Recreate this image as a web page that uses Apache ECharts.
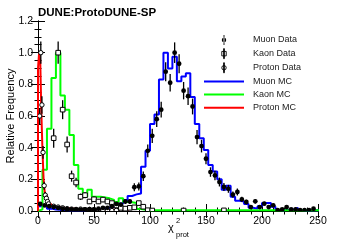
<!DOCTYPE html>
<html><head><meta charset="utf-8">
<script src="https://cdn.jsdelivr.net/npm/echarts@6/dist/echarts.min.js"></script>
<style>html,body{margin:0;padding:0;background:#fff}#c{width:357px;height:244px}</style>
</head><body><div id="c"></div>
<script>
// ---- data ----
const BIN = 4; // common bin width for muon / kaon MC
const xTickLabels = [0, 50, 100, 150, 200, 250];
const yTickLabels = ['0.0','0.2','0.4','0.6','0.8','1.0','1.2'];

const muonMcVals = [0.03,0.04,0.015,0.01,0.008,0.006,0.005,0.005,0.004,0.005,
  0.006,0.008,0.01,0.012,0.015,0.02,0.025,0.035,0.048,0.07,
  0.095,0.105,0.11,0.28,0.38,0.55,0.61,0.83,1.0,0.90,
  0.975,0.82,0.85,0.87,0.72,0.55,0.46,0.385,0.29,0.25,
  0.20,0.135,0.16,0.09,0.065,0.06,0.045,0.02,0.015,0.03,
  0.05,0.05,0.027,0.006,0.005,0.008,0.01,0.02,0.006,0.005,
  0.005,0.005,0.004];
const kaonMcVals = [0.01,0.26,0.52,0.84,1.0,0.73,0.64,0.48,0.29,0.14,
  0.09,0.135,0.09,0.09,0.085,0.08,0.07,0.057,0.08,0.057,
  0.055,0.05,0.012,0.008,0.005,0.005,0.005,0.005,0.005,0.005,
  0.005,0.005,0.005,0.005,0.005,0.005,0.005,0.005,0.005,0.005,
  0.005,0.005,0.005,0.005,0.005,0.005,0.005,0.005,0.005,0.005,
  0.005,0.005,0.005,0.005,0.005,0.005,0.005,0.005,0.005,0.005,
  0.005,0.005,0.005];
const protonMcEdges = [0,1,2,3,4,5,6,7,8,9,10,12,16,20,24,28,32,36,40,44,48,52,56,60,64,68,72,76,80];
const protonMcVals = [0.9,1.0,0.95,0.62,0.38,0.2,0.12,0.08,0.06,0.05,
  0.04,0.03,0.025,0.02,0.018,0.015,0.012,0.012,0.01,0.01,
  0.008,0.008,0.006,0.006,0.008,0.01,0.018,0.006];

const muonDataX = [2,6,10,14,18,22,26,30,34,38,42,46,50,54,58,62,66,70,74,78,
  82,86,90,94,98,102,106,110,114,118,122,126,130,134,138,142,146,150,154,158,
  162,166,170,174,178,182,186,190,194,198,202,206,210,214,218,222,226,230,234,238,242,246];
const muonDataY = [0.045,0.035,0.03,0.025,0.02,0.015,0.012,0.01,0.01,0.008,
  0.01,0.012,0.01,0.015,0.02,0.02,0.03,0.045,0.04,0.06,
  0.06,0.15,0.155,0.22,0.38,0.475,0.58,0.64,0.88,0.81,
  1.0,0.93,0.76,0.725,0.66,0.467,0.41,0.33,0.246,0.225,
  0.183,0.152,0.14,0.103,0.12,0.074,0.057,0.025,0.061,0.025,
  0.046,0.025,0.036,0.005,0.01,0.025,0.01,0.01,0.005,0.005,0.005,0.015];
const muonDataErr = [0.012,0.01,0.01,0.008,0.008,0.006,0.006,0.005,0.005,0.005,
  0.005,0.006,0.005,0.006,0.008,0.008,0.01,0.012,0.012,0.015,
  0.015,0.025,0.025,0.03,0.04,0.045,0.05,0.05,0.06,0.055,
  0.065,0.06,0.055,0.055,0.05,0.045,0.04,0.035,0.03,0.03,
  0.028,0.025,0.025,0.02,0.022,0.016,0.014,0.01,0.014,0.01,
  0.012,0.01,0.011,0.004,0.006,0.01,0.006,0.006,0.004,0.004,0.004,0.007];

const kaonDataX = [14,18,22,26,30,34,38,42,46,50,54,58,62,66,70,74,78,82,86,90,94,98,102,130,166];
const kaonDataY = [0.46,1.0,0.64,0.42,0.22,0.18,0.09,0.10,0.06,0.074,0.06,0.072,0.06,0.05,0.035,0.02,0.015,0.02,0.023,0.05,0.027,0.005,0.003,0.003,0.004];
const kaonDataErr = [0.06,0.07,0.06,0.05,0.035,0.03,0.02,0.02,0.015,0.017,0.015,0.016,0.015,0.013,0.011,0.008,0.007,0.008,0.009,0.013,0.009,0.004,0.003,0.003,0.003];

const protonDataX = [1.5,2.5,3.5,4.5,5.5,6.5,7.5,8.5,9.5,14,18,22,26,30,34,38,42,46,50,54,58,62,66,70,74,78];
const protonDataY = [0.6,1.0,0.67,0.37,0.16,0.10,0.08,0.06,0.045,0.03,0.025,0.02,0.015,0.012,0.01,0.012,0.008,0.01,0.008,0.006,0.005,0.004,0.003,0.004,0.01,0.005];
const protonDataErr = [0.05,0.07,0.055,0.04,0.025,0.02,0.018,0.015,0.012,0.01,0.009,0.008,0.007,0.006,0.005,0.006,0.005,0.005,0.005,0.004,0.004,0.003,0.003,0.003,0.005,0.003];

// ---- helpers ----
function uniformEdges(n){ const e=[]; for(let i=0;i<=n;i++) e.push(i*BIN); return e; }
function histPoints(edges, vals){
  const pts=[[edges[0],0]];
  for(let i=0;i<vals.length;i++) pts.push([edges[i], vals[i]]);
  pts.push([edges[vals.length], vals[vals.length-1]]);
  pts.push([edges[vals.length], 0]);
  return pts;
}
function zip3(x,y,e){ return x.map((v,i)=>[v,y[i],e[i]]); }
function makeRender(kind){
  return function(params, api){
    const x=api.value(0), y=api.value(1), e=api.value(2);
    const c=api.coord([x,y]);
    const lo=api.coord([x,Math.max(0,y-e)]);
    const hi=api.coord([x,y+e]);
    const ch=[{type:'line',shape:{x1:c[0],y1:lo[1],x2:c[0],y2:hi[1]},style:{stroke:'#000',lineWidth:1.3}}];
    if(kind==='filled') ch.push({type:'circle',shape:{cx:c[0],cy:c[1],r:2.4},style:{fill:'#000'}});
    else if(kind==='square') ch.push({type:'rect',shape:{x:c[0]-2.3,y:c[1]-2.3,width:4.6,height:4.6},style:{fill:'#fff',stroke:'#000',lineWidth:1}});
    else ch.push({type:'circle',shape:{cx:c[0],cy:c[1],r:2.2},style:{fill:'#fff',stroke:'#000',lineWidth:1}});
    return {type:'group',children:ch};
  };
}
const FONT='Liberation Sans';
const dataIcon='path://M1.6,0h0.8v9h-0.8z M0,4.5a2,2 0 1,0 4,0a2,2 0 1,0 -4,0z';
const sqIcon='path://M1.6,0h0.8v9h-0.8z M0,2.5h4v4h-4z';
const lineIcon='path://M0,0h40v2h-40z';

function axisCommon(){
  return {
    axisLine:{show:true,lineStyle:{color:'#000',width:1}},
    axisTick:{show:true,inside:true,length:7,lineStyle:{color:'#000',width:1}},
    splitLine:{show:false}
  };
}
const chart=echarts.init(document.getElementById('c'),null,{renderer:'canvas'});
chart.setOption({
  animation:false,
  title:{text:'DUNE:ProtoDUNE-SP',left:38,top:7,padding:0,
    textStyle:{fontSize:11.5,fontWeight:'bold',fontFamily:FONT,color:'#000'}},
  grid:{left:38,right:39,top:21,bottom:33,containLabel:false,outerBoundsMode:'none'},
  legend:{orient:'vertical',left:204,top:35,itemWidth:40,itemHeight:10,itemGap:3.2,
    symbolKeepAspect:true,padding:0,
    textStyle:{fontSize:9,fontFamily:FONT,color:'#222',lineHeight:10,padding:[0,0,0,4]},
    data:[
      {name:'Muon Data',icon:dataIcon,itemStyle:{color:'#000'}},
      {name:'Kaon Data',icon:sqIcon,itemStyle:{color:'#fff',borderColor:'#000',borderWidth:0.9}},
      {name:'Proton Data',icon:dataIcon,itemStyle:{color:'#fff',borderColor:'#000',borderWidth:0.9}},
      {name:'Muon MC',icon:lineIcon,itemStyle:{color:'#0000ff'}},
      {name:'Kaon MC',icon:lineIcon,itemStyle:{color:'#00ff00'}},
      {name:'Proton MC',icon:lineIcon,itemStyle:{color:'#ff0000'}}
    ]},
  xAxis:[
    Object.assign(axisCommon(),{type:'value',min:xTickLabels[0],max:xTickLabels[xTickLabels.length-1],interval:50,
      minorTick:{show:true,splitNumber:5,length:3.5,lineStyle:{color:'#000',width:1}},
      axisLabel:{color:'#000',fontSize:10.5,fontFamily:FONT,margin:5,
        formatter:v=>xTickLabels.includes(v)?String(v):''}}),
    Object.assign(axisCommon(),{type:'value',position:'top',min:0,max:250,interval:50,
      minorTick:{show:true,splitNumber:5,length:3.5,lineStyle:{color:'#000',width:1}},
      axisLabel:{show:false}})
  ],
  yAxis:[
    Object.assign(axisCommon(),{type:'value',min:0,max:1.2,interval:0.2,
      name:'Relative Frequency',nameLocation:'middle',nameGap:22,nameMoveOverlap:false,
      nameTextStyle:{fontSize:11,fontFamily:FONT,color:'#000'},
      minorTick:{show:true,splitNumber:4,length:3.5,lineStyle:{color:'#000',width:1}},
      axisLabel:{color:'#000',fontSize:10.5,fontFamily:FONT,margin:5,
        formatter:v=>yTickLabels[Math.round(v/0.2)]||''}}),
    Object.assign(axisCommon(),{type:'value',position:'right',min:0,max:1.2,interval:0.2,
      minorTick:{show:true,splitNumber:4,length:3.5,lineStyle:{color:'#000',width:1}},
      axisLabel:{show:false}})
  ],
  graphic:[
    {type:'text',left:168,top:222,style:{text:'χ',fontSize:11,fontFamily:FONT,fill:'#000'}},
    {type:'text',left:176,top:217,style:{text:'2',fontSize:7.5,fontFamily:FONT,fill:'#000'}},
    {type:'text',left:176,top:231,style:{text:'prot',fontSize:7.5,fontFamily:FONT,fill:'#000'}}
  ],
  series:[
    {name:'Muon MC',type:'line',step:'end',symbol:'none',clip:true,z:2,
      data:histPoints(uniformEdges(muonMcVals.length),muonMcVals),
      lineStyle:{color:'#0000ff',width:2},itemStyle:{color:'#0000ff'}},
    {name:'Kaon MC',type:'line',step:'end',symbol:'none',clip:true,z:2,
      data:histPoints(uniformEdges(kaonMcVals.length),kaonMcVals),
      lineStyle:{color:'#00ff00',width:2},itemStyle:{color:'#00ff00'}},
    {name:'Proton MC',type:'line',step:'end',symbol:'none',clip:true,z:2,
      data:histPoints(protonMcEdges,protonMcVals),
      lineStyle:{color:'#ff0000',width:2},itemStyle:{color:'#ff0000'}},
    {name:'Proton Data',type:'custom',renderItem:makeRender('open'),clip:true,z:4,
      encode:{x:0,y:1},itemStyle:{color:'#000'},data:zip3(protonDataX,protonDataY,protonDataErr)},
    {name:'Kaon Data',type:'custom',renderItem:makeRender('square'),clip:true,z:4,
      encode:{x:0,y:1},itemStyle:{color:'#000'},data:zip3(kaonDataX,kaonDataY,kaonDataErr)},
    {name:'Muon Data',type:'custom',renderItem:makeRender('filled'),clip:true,z:5,
      encode:{x:0,y:1},itemStyle:{color:'#000'},data:zip3(muonDataX,muonDataY,muonDataErr)}
  ]
});
</script></body></html>
